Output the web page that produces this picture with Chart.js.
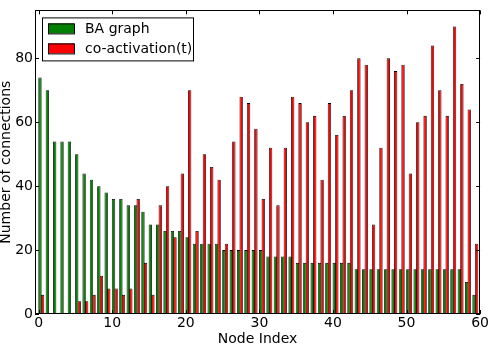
<!DOCTYPE html>
<html><head><meta charset="utf-8">
<script src="https://cdn.jsdelivr.net/npm/chart.js@4/dist/chart.umd.min.js"></script>
<style>html,body{margin:0;padding:0;background:#fff}#wrap{width:490px;height:344px}</style>
</head><body><div id="wrap"><canvas id="c" width="490" height="344"></canvas></div>
<script>
const nodeIndex = [0,1,2,3,4,5,6,7,8,9,10,11,12,13,14,15,16,17,18,19,20,21,22,23,24,25,26,27,28,29,30,31,32,33,34,35,36,37,38,39,40,41,42,43,44,45,46,47,48,49,50,51,52,53,54,55,56,57,58,59];
const baGraph = [74,70,54,54,54,50,44,42,40,38,36,36,34,34,32,28,28,26,26,26,24,22,22,22,22,20,20,20,20,20,20,18,18,18,18,16,16,16,16,16,16,16,16,14,14,14,14,14,14,14,14,14,14,14,14,14,14,14,10,6];
const coActivation = [6,0,0,0,0,4,4,6,12,8,8,6,8,36,16,6,34,40,24,44,70,26,50,46,42,22,54,68,66,58,36,52,34,52,68,66,60,62,42,66,56,62,70,80,78,28,52,80,76,78,44,60,62,84,70,62,90,72,64,22];
const xTicks = [0,10,20,30,40,50,60];
const yTicks = [0,20,40,60,80];
const seriesNames = ['BA graph','co-activation(t)'];
const seriesColors = ['#008000','#ff0000'];

const FONT = 'DejaVu Sans';
const BAR_W = 0.35;

const framePlugin = {
  id: 'frame',
  afterDatasetsDraw(chart) {
    const {ctx, chartArea: a, scales} = chart;
    ctx.save();
    ctx.strokeStyle = '#000';
    ctx.lineWidth = 1;
    ctx.strokeRect(Math.round(a.left) + 0.5, Math.round(a.top) + 0.5, Math.round(a.right - a.left) - 1, Math.round(a.bottom - a.top) - 1);
    const L = 4;
    ctx.beginPath();
    xTicks.forEach(v => {
      const x = Math.round(scales.x.getPixelForValue(v)) + 0.5;
      ctx.moveTo(x, a.bottom); ctx.lineTo(x, a.bottom - L);
      ctx.moveTo(x, a.top); ctx.lineTo(x, a.top + L);
    });
    yTicks.forEach(v => {
      const y = Math.round(scales.y.getPixelForValue(v)) + 0.5;
      ctx.moveTo(a.left, y); ctx.lineTo(a.left + L, y);
      ctx.moveTo(a.right, y); ctx.lineTo(a.right - L, y);
    });
    ctx.stroke();
    // legend
    const bx = a.left + 7, by = a.top + 7, bw = 151, bh = 43;
    ctx.fillStyle = '#fff';
    ctx.fillRect(bx, by, bw, bh);
    ctx.strokeRect(bx + 0.5, by + 0.5, bw, bh);
    ctx.font = '14px "' + FONT + '"';
    ctx.textBaseline = 'middle';
    seriesNames.forEach((n, i) => {
      const py = by + 6 + i * 20;
      ctx.fillStyle = seriesColors[i];
      ctx.fillRect(bx + 6, py, 26, 10);
      ctx.strokeStyle = '#000';
      ctx.strokeRect(bx + 6.5, py + 0.5, 26, 10);
      ctx.fillStyle = '#000';
      ctx.fillText(n, bx + 43, py + 5.5);
    });
    ctx.restore();
  }
};

new Chart(document.getElementById('c'), {
  type: 'bar',
  data: {
    datasets: [
      { label: seriesNames[0], data: nodeIndex.map((n, i) => ({x: n + BAR_W / 2, y: baGraph[i]})),
        backgroundColor: seriesColors[0], borderColor: '#000', borderWidth: 0.8 },
      { label: seriesNames[1], data: nodeIndex.map((n, i) => ({x: n + BAR_W * 1.5, y: coActivation[i]})),
        backgroundColor: seriesColors[1], borderColor: '#000', borderWidth: 0.8 }
    ]
  },
  options: {
    responsive: false, animation: false, devicePixelRatio: 1,
    grouped: false,
    categoryPercentage: 1.0, barPercentage: 1.3,
    layout: { padding: { left: 0, right: 9, top: 0, bottom: 0 } },
    plugins: { legend: { display: false }, tooltip: { enabled: false } },
    scales: {
      x: {
        type: 'linear', min: -0.5, max: 60, offset: false,
        afterBuildTicks: s => { s.ticks = xTicks.map(v => ({value: v})); },
        afterFit: s => { s.height = 30; },
        grid: { display: false, drawTicks: false },
        border: { display: false },
        ticks: { padding: 1, color: '#000', font: { family: FONT, size: 14 }, maxRotation: 0 },
        title: { display: true, text: 'Node Index', color: '#000', font: { family: FONT, size: 14 }, padding: { top: 0, bottom: -4 } }
      },
      y: {
        min: 0, max: 95,
        afterBuildTicks: s => { s.ticks = yTicks.map(v => ({value: v})); },
        afterFit: s => { s.width = 35; },
        grid: { display: false, drawTicks: false },
        border: { display: false },
        ticks: { padding: 2, color: '#000', font: { family: FONT, size: 14 } },
        title: { display: true, text: 'Number of connections', color: '#000', font: { family: FONT, size: 14 }, padding: { top: -2, bottom: 0 } }
      }
    }
  },
  plugins: [framePlugin]
});
</script></body></html>
